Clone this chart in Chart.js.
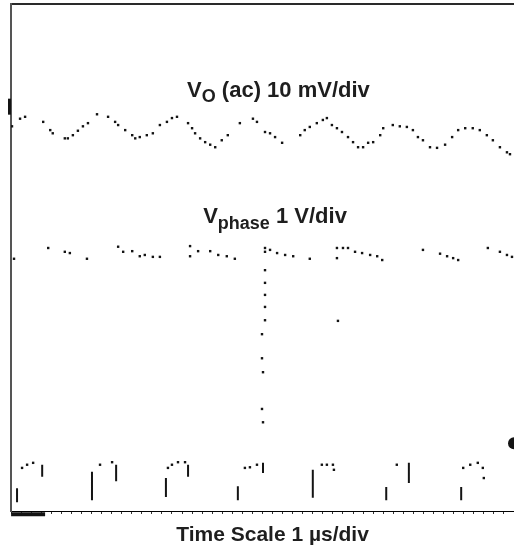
<!DOCTYPE html>
<html><head><meta charset="utf-8">
<script src="https://cdn.jsdelivr.net/npm/chart.js@4/dist/chart.umd.min.js"></script>
<style>html,body{margin:0;padding:0;background:#fff;overflow:hidden}canvas{display:block}</style>
</head><body>
<canvas id="c" width="514" height="555"></canvas>
<script>
// Time in µs (1 µs/div), level in screen divisions (0 = bottom of screen, 8 = top)
const voutTime  = [0.02,0.18,0.28,0.64,0.78,0.83,1.07,1.13,1.23,1.33,1.43,1.53,1.71,1.93,2.07,2.13,2.27,2.41,2.47,2.56,2.70,2.82,2.96,3.10,3.20,3.30,3.52,3.60,3.66,3.76,3.86,3.96,4.06,4.19,4.31,4.55,4.81,4.89,5.05,5.15,5.25,5.39,5.75,5.84,5.94,6.08,6.20,6.28,6.38,6.48,6.58,6.70,6.80,6.90,7.00,7.10,7.20,7.34,7.40,7.59,7.73,7.87,7.99,8.09,8.19,8.33,8.47,8.63,8.77,8.89,9.03,9.18,9.32,9.46,9.58,9.72,9.86,9.92];
const voutLevel = [6.07,6.19,6.22,6.14,6.01,5.96,5.88,5.88,5.93,6.00,6.07,6.12,6.26,6.22,6.14,6.09,6.01,5.93,5.88,5.90,5.93,5.96,6.09,6.14,6.20,6.22,6.12,6.04,5.96,5.88,5.82,5.78,5.74,5.85,5.93,6.12,6.19,6.14,5.98,5.96,5.90,5.81,5.93,6.01,6.06,6.12,6.17,6.20,6.09,6.04,5.98,5.90,5.82,5.74,5.74,5.81,5.82,5.93,6.04,6.09,6.07,6.06,6.01,5.90,5.85,5.74,5.73,5.78,5.90,6.01,6.04,6.04,6.01,5.93,5.85,5.74,5.66,5.63];

const phaseTime  = [0.06,0.74,1.07,1.17,1.51,2.13,2.23,2.41,2.56,2.66,2.82,2.96,3.56,3.56,3.72,3.96,4.12,4.29,4.45,5.05,5.05,5.15,5.29,5.45,5.61,5.94,5.05,5.05,5.05,5.05,5.05,4.99,4.99,5.01,4.99,5.01,6.48,6.48,6.60,6.70,6.84,6.98,7.14,7.28,7.38,6.50,8.19,8.53,8.67,8.79,8.89,9.48,9.72,9.86,9.96];
const phaseLevel = [3.98,4.15,4.09,4.07,3.98,4.17,4.09,4.10,4.02,4.04,4.01,4.01,4.18,4.02,4.10,4.10,4.04,4.02,3.98,4.15,4.09,4.12,4.07,4.04,4.02,3.98,3.80,3.60,3.41,3.22,3.01,2.79,2.41,2.19,1.61,1.40,4.15,3.99,4.15,4.15,4.09,4.07,4.04,4.02,3.96,3.00,4.12,4.06,4.02,3.99,3.96,4.15,4.09,4.04,4.01];

const gateTime  = [0.22,0.32,0.44,1.77,2.01,3.12,3.20,3.32,3.46,4.65,4.75,4.89,6.18,6.28,6.40,6.42,7.67,8.99,9.13,9.28,9.38,9.40];
const gateLevel = [0.68,0.73,0.76,0.73,0.77,0.68,0.73,0.77,0.77,0.68,0.69,0.73,0.73,0.73,0.73,0.65,0.73,0.68,0.73,0.76,0.68,0.52];
// switching edges of the gate trace: time, upper level, lower level
const edgeTime   = [0.12,0.62,1.61,2.09,3.08,3.52,4.51,5.01,6.00,7.46,7.91,8.95];
const edgeTop    = [0.36,0.73,0.62,0.73,0.52,0.73,0.39,0.76,0.65,0.38,0.76,0.38];
const edgeBottom = [0.14,0.54,0.17,0.47,0.22,0.54,0.17,0.60,0.21,0.17,0.44,0.17];

// channel / ground markers at the screen edges
const markerTime  = [-0.03, 10.0, 0.34];
const markerLevel = [6.38, 1.07, -0.05];

// text labels (real text), anchored in time/level units
const traceLabels = [
  {t: 3.50, v: 6.53, parts: [{text: 'V', size: 22, dy: 0}, {text: 'O', size: 18, dy: 5}, {text: ' (ac) 10 mV/div', size: 22, dy: 0}]},
  {t: 3.82, v: 4.54, parts: [{text: 'V', size: 22, dy: 0}, {text: 'phase', size: 18, dy: 6}, {text: ' 1 V/div', size: 22, dy: 0}]}
];
const axisTitle = {t: 5.2, below: 30, parts: [{text: 'Time Scale 1 \u00b5s/div', size: 21, dy: 0}]};

const zip = (xs, ys) => xs.map((t, i) => ({x: t, y: ys[i]}));
const edgePts = [];
edgeTime.forEach((t, i) => { edgePts.push({x: t, y: edgeTop[i]}, {x: t, y: edgeBottom[i]}, {x: t, y: null}); });

const ink = '#141414';
const dotStyle = {showLine: false, pointStyle: 'rect', pointRadius: 1.7, pointHoverRadius: 1.7, pointBorderWidth: 0, backgroundColor: ink, borderColor: ink};
const FONT = '"Liberation Sans", Arial, Helvetica, sans-serif';

function drawParts(ctx, parts, px, py, center) {
  let total = 0;
  parts.forEach(p => { ctx.font = 'bold ' + p.size + 'px ' + FONT; total += ctx.measureText(p.text).width; });
  if (center) px -= total / 2;
  parts.forEach(p => {
    ctx.font = 'bold ' + p.size + 'px ' + FONT;
    ctx.fillText(p.text, px, py + p.dy);
    px += ctx.measureText(p.text).width;
  });
}

const labelPlugin = {
  id: 'traceLabels',
  afterDraw(chart) {
    const {ctx, scales: {x, y}} = chart;
    ctx.save();
    ctx.fillStyle = '#1e1e1e';
    ctx.textBaseline = 'alphabetic';
    ctx.textAlign = 'left';
    traceLabels.forEach(lab => drawParts(ctx, lab.parts, x.getPixelForValue(lab.t), y.getPixelForValue(lab.v), false));
    drawParts(ctx, axisTitle.parts, x.getPixelForValue(axisTitle.t), chart.chartArea.bottom + axisTitle.below, true);
    ctx.restore();
  }
};

new Chart(document.getElementById('c'), {
  type: 'scatter',
  data: {
    datasets: [
      Object.assign({label: 'VO (ac) 10 mV/div', data: zip(voutTime, voutLevel)}, dotStyle),
      Object.assign({label: 'Vphase 1 V/div', data: zip(phaseTime, phaseLevel)}, dotStyle),
      Object.assign({label: 'Gate', data: zip(gateTime, gateLevel)}, dotStyle),
      {label: 'Gate edges', data: edgePts, showLine: true, spanGaps: false, pointRadius: 0, borderColor: ink, borderWidth: 2},
      {label: 'Markers', data: zip(markerTime, markerLevel), clip: false, showLine: false,
       pointStyle: ['line', 'circle', 'line'], rotation: [90, 0, 0], pointRadius: [8, 6, 17], pointBorderWidth: [3, 0, 4],
       borderColor: ink, backgroundColor: ink}
    ]
  },
  options: {
    responsive: false,
    animation: false,
    events: [],
    layout: {autoPadding: false, padding: {left: 11, top: 4, right: 0, bottom: 41}},
    plugins: {
      legend: {display: false},
      tooltip: {enabled: false}
    },
    scales: {
      x: {type: 'linear', position: 'bottom', min: 0, max: 10,
          ticks: {display: false, stepSize: 0.2},
          grid: {display: true, drawOnChartArea: false, drawTicks: true, tickLength: 3, color: '#333', lineWidth: 1},
          border: {display: true, color: '#000', width: 1}},
      xTop: {type: 'linear', position: 'top', min: 0, max: 10,
          ticks: {display: false},
          grid: {display: true, drawOnChartArea: false, drawTicks: false},
          border: {display: true, color: '#2a2a2a', width: 2}},
      y: {type: 'linear', position: 'left', min: 0, max: 8,
          ticks: {display: false},
          grid: {display: true, drawOnChartArea: false, drawTicks: false},
          border: {display: true, color: '#555', width: 2}}
    }
  },
  plugins: [labelPlugin]
});
</script>
</body></html>
